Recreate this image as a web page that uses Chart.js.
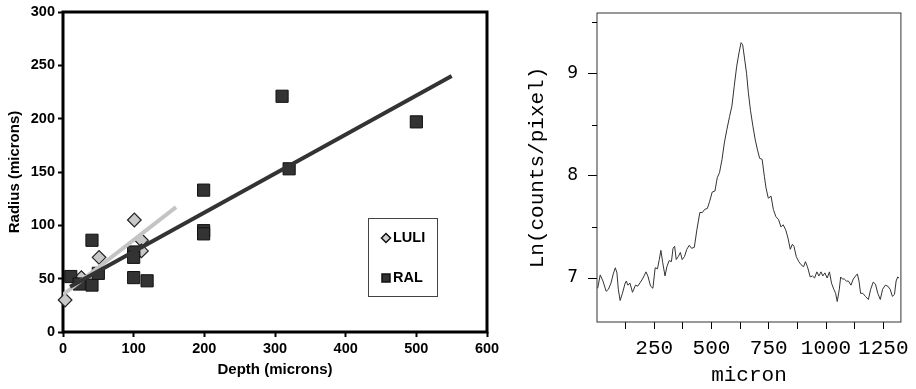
<!DOCTYPE html>
<html>
<head>
<meta charset="utf-8">
<script src="https://cdn.jsdelivr.net/npm/chart.js@4.4.1/dist/chart.umd.min.js"></script>
<style>
    html, body { margin: 0; padding: 0; background: #fff; }
    body { width: 916px; height: 389px; position: relative; overflow: hidden; }
    #left { position: absolute; left: 0; top: 0; }
    #right { position: absolute; left: 510px; top: 0; }
</style>
</head>
<body>
<canvas id="left" width="510" height="389"></canvas>
<canvas id="right" width="406" height="389"></canvas>
<script>
// left panel: radius vs depth
const luliDepth = [3, 26, 51, 101, 111, 111];
const luliRadius = [30, 51, 70, 105, 86, 76];
const ralDepth = [11, 23, 41, 41, 50, 100, 100, 100, 119, 199, 199, 199, 310, 320, 500];
const ralRadius = [52, 45, 44, 86, 55, 75, 70, 51, 48, 133, 95, 92, 221, 153, 197];
// fitted lines (end points)
const luliFitDepth = [0, 160];
const luliFitRadius = [35, 117];
const ralFitDepth = [10, 550];
const ralFitRadius = [42.5, 240];

// right panel: ln(counts/pixel) profile
const profileMicron = [3, 14, 26, 40, 50, 61, 71, 80, 87, 93, 101, 111, 123, 128, 135, 144, 155, 168, 178, 190,
    201, 214, 222, 234, 244, 254, 264, 272, 279, 287, 297, 305, 315, 325, 332, 339, 346, 355, 364, 372,
    382, 392, 403, 413, 425, 436, 449, 460, 470, 482, 492, 503, 515, 525, 535, 546, 556, 567, 579, 589,
    599, 610, 620, 629, 636, 644, 653, 661, 670, 681, 691, 701, 710, 721, 731, 738, 748, 760, 770, 781,
    793, 803, 813, 824, 834, 844, 853, 860, 870, 881, 891, 902, 910, 919, 931, 941, 950, 960, 969, 978,
    986, 995, 1005, 1015, 1024, 1034, 1042, 1049, 1058, 1064, 1072, 1080, 1089, 1098, 1109, 1119, 1129, 1137, 1144, 1151,
    1161, 1172, 1185, 1195, 1206, 1216, 1226, 1237, 1247, 1259, 1270, 1280, 1290, 1299, 1306, 1313, 1319];
const profileLn = [6.90, 7.03, 6.97, 6.87, 6.89, 6.95, 7.04, 7.10, 7.05, 6.89, 6.78, 6.85, 6.95, 6.97, 6.93, 6.95, 6.86, 6.93, 6.92, 6.96,
    7.00, 7.06, 7.02, 6.92, 6.90, 7.10, 7.09, 7.18, 7.27, 7.15, 7.02, 7.11, 7.17, 7.16, 7.29, 7.31, 7.18, 7.21, 7.25, 7.18,
    7.21, 7.28, 7.32, 7.29, 7.30, 7.47, 7.64, 7.64, 7.67, 7.68, 7.75, 7.84, 7.85, 7.98, 8.03, 8.16, 8.32, 8.45, 8.58, 8.68,
    8.87, 9.07, 9.20, 9.30, 9.28, 9.15, 9.00, 8.81, 8.64, 8.48, 8.35, 8.25, 8.17, 8.16, 7.99, 7.88, 7.78, 7.80, 7.67, 7.60,
    7.57, 7.50, 7.52, 7.47, 7.39, 7.28, 7.33, 7.31, 7.21, 7.16, 7.13, 7.11, 7.16, 7.11, 7.01, 7.02, 7.00, 7.06, 7.02, 7.06,
    7.02, 7.05, 7.00, 7.06, 6.95, 6.89, 6.85, 6.77, 6.89, 7.01, 6.99, 6.99, 6.97, 6.97, 6.93, 6.99, 7.02, 7.04, 6.97, 6.85,
    6.85, 6.82, 6.79, 6.89, 6.96, 6.94, 6.85, 6.79, 6.89, 6.93, 6.92, 6.89, 6.82, 6.84, 6.97, 7.01, 7.00];

const pts = (xs, ys) => xs.map((x, i) => ({ x: x, y: ys[i] }));

const boldFont = size => ({ family: "'Liberation Sans', Arial, sans-serif", size: size, weight: 'bold' });

// frame round the plot area, drawn under the markers
const frame = {
    id: 'frame',
    beforeDatasetsDraw(chart, args, opts) {
        const { ctx, chartArea: a } = chart;
        ctx.save();
        ctx.lineWidth = opts.width;
        ctx.strokeStyle = opts.color;
        ctx.strokeRect(a.left, a.top, a.right - a.left, a.bottom - a.top);
        ctx.restore();
    }
};

// boxed legend inside the plot, like the original
const boxLegend = {
    id: 'boxLegend',
    afterDraw(chart) {
        const ctx = chart.ctx;
        const x0 = 368.5, y0 = 218.5, w = 69, h = 78;
        ctx.save();
        ctx.fillStyle = '#fff';
        ctx.strokeStyle = '#444';
        ctx.lineWidth = 1;
        ctx.fillRect(x0, y0, w, h);
        ctx.strokeRect(x0, y0, w, h);

        // LULI diamond
        const cx = 386, d = 4.5;
        let cy = 238;
        ctx.beginPath();
        ctx.moveTo(cx, cy - d); ctx.lineTo(cx + d, cy); ctx.lineTo(cx, cy + d); ctx.lineTo(cx - d, cy);
        ctx.closePath();
        ctx.fillStyle = '#d0d0d0';
        ctx.fill();
        ctx.lineWidth = 1.5;
        ctx.strokeStyle = '#111';
        ctx.stroke();
        // RAL square
        cy = 278;
        ctx.fillStyle = '#333';
        ctx.fillRect(cx - 4, cy - 4, 8, 8);
        ctx.strokeRect(cx - 4, cy - 4, 8, 8);

        ctx.fillStyle = '#000';
        ctx.font = "bold 14.5px 'Liberation Sans', Arial, sans-serif";
        ctx.textBaseline = 'middle';
        ctx.fillText(chart.data.datasets[3].label, 393, 238);
        ctx.fillText(chart.data.datasets[2].label, 393, 278);
        ctx.restore();
    }
};

new Chart(document.getElementById('left'), {
    type: 'scatter',
    data: {
        datasets: [
            {
                label: 'RAL fit', data: pts(ralFitDepth, ralFitRadius), showLine: true,
                borderColor: '#333', borderWidth: 4, pointRadius: 0, order: 0
            },
            {
                label: 'LULI fit', data: pts(luliFitDepth, luliFitRadius), showLine: true,
                borderColor: '#c4c4c4', borderWidth: 4, pointRadius: 0, order: 1
            },
            {
                label: 'RAL', data: pts(ralDepth, ralRadius), pointStyle: 'rect',
                pointRadius: 8.6, pointBackgroundColor: '#333', pointBorderColor: '#111',
                pointBorderWidth: 1, clip: false, order: 2
            },
            {
                label: 'LULI', data: pts(luliDepth, luliRadius), pointStyle: 'rectRot',
                pointRadius: 6.8, pointBackgroundColor: '#c8c8c8', pointBorderColor: '#222',
                pointBorderWidth: 1.2, clip: false, order: 3
            }
        ]
    },
    options: {
        responsive: false,
        animation: false,
        layout: { padding: { left: 0, top: 12, right: 23, bottom: 0 } },
        plugins: {
            legend: { display: false },
            tooltip: { enabled: false },
            frame: { width: 3, color: '#000' }
        },
        scales: {
            x: {
                type: 'linear', min: 0, max: 600,
                ticks: { stepSize: 100, color: '#000', font: boldFont(14.5), padding: 3, maxRotation: 0 },
                grid: { drawOnChartArea: false, tickLength: 5, tickWidth: 2, tickColor: '#000' },
                border: { display: false },
                title: { display: true, text: 'Depth (microns)', color: '#000', font: boldFont(15), padding: { top: 0, bottom: 10 } },
                afterFit: s => { s.height = 57; }
            },
            y: {
                type: 'linear', min: 0, max: 300,
                ticks: { stepSize: 50, color: '#000', font: boldFont(14.5), padding: 3 },
                grid: { drawOnChartArea: false, tickLength: 5, tickWidth: 2, tickColor: '#000' },
                border: { display: false },
                title: { display: true, text: 'Radius (microns)', color: '#000', font: boldFont(15), padding: { top: 6, bottom: 0 } },
                afterFit: s => { s.width = 63; s.paddingTop = 0; s.paddingBottom = 0; }
            }
        }
    },
    plugins: [frame, boxLegend]
});

// short ticks half way between the labelled ones on the y axis
const minorTicks = {
    id: 'minorTicks',
    afterDraw(chart) {
        const y = chart.scales.y, ctx = chart.ctx, left = chart.chartArea.left;
        ctx.save();
        ctx.strokeStyle = '#000';
        ctx.lineWidth = 1;
        y.ticks.forEach(t => {
            const v = t.value + 0.5;
            if (v > y.max) return;
            const p = Math.round(y.getPixelForValue(v)) + 0.5;
            ctx.beginPath();
            ctx.moveTo(left - 5, p);
            ctx.lineTo(left, p);
            ctx.stroke();
        });
        ctx.restore();
    }
};

const monoFont = { family: "'Liberation Mono', 'Courier New', monospace", size: 21 };

new Chart(document.getElementById('right'), {
    type: 'scatter',
    data: {
        datasets: [{
            label: 'profile', data: pts(profileMicron, profileLn), showLine: true,
            borderColor: '#333', borderWidth: 1, pointRadius: 0, tension: 0
        }]
    },
    options: {
        responsive: false,
        animation: false,
        layout: { padding: { left: 0, top: 13, right: 9, bottom: 0 } },
        plugins: {
            legend: { display: false },
            tooltip: { enabled: false },
            frame: { width: 1, color: '#333' }
        },
        scales: {
            x: {
                type: 'linear', min: 0, max: 1327,
                ticks: {
                    stepSize: 125, includeBounds: false, autoSkip: false, maxRotation: 0, minRotation: 0,
                    color: '#000', font: monoFont, padding: 7,
                    callback: v => (v > 0 && v % 250 === 0) ? String(v) : ''
                },
                grid: {
                    drawOnChartArea: false, tickLength: 7, tickWidth: 1,
                    tickColor: c => (c.tick && c.tick.value === 0) ? 'rgba(0,0,0,0)' : '#000'
                },
                border: { display: false },
                title: { display: true, text: 'micron', color: '#000', font: monoFont, padding: { top: 0, bottom: 1 } },
                afterFit: s => { s.height = 67; }
            },
            y: {
                type: 'linear', min: 6.57, max: 9.59,
                ticks: {
                    stepSize: 1, includeBounds: false, color: '#000', padding: 10,
                    font: { family: "'DejaVu Sans', Verdana, sans-serif", size: 17 }
                },
                grid: { drawOnChartArea: false, tickLength: 9, tickWidth: 1, tickColor: '#000' },
                border: { display: false },
                title: { display: true, text: 'Ln(counts/pixel)', color: '#000', font: monoFont, padding: { top: 15, bottom: 0 } },
                afterFit: s => { s.width = 87; s.paddingTop = 0; s.paddingBottom = 0; }
            }
        }
    },
    plugins: [frame, minorTicks]
});
</script>
</body>
</html>
